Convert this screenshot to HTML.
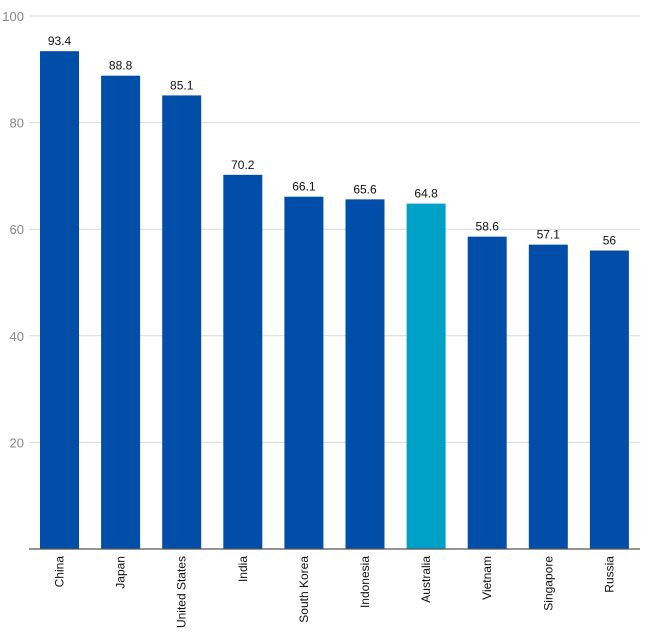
<!DOCTYPE html>
<html><head><meta charset="utf-8"><style>
html,body{margin:0;padding:0;background:#fff;}
svg{display:block;font-family:"Liberation Sans",sans-serif;}
</style></head><body>
<svg id="chart" width="650" height="644" viewBox="0 0 650 644"></svg>
<script>
const categories=["China","Japan","United States","India","South Korea","Indonesia","Australia","Vietnam","Singapore","Russia"];
const values=[93.4,88.8,85.1,70.2,66.1,65.6,64.8,58.6,57.1,56];
const valueLabels=["93.4","88.8","85.1","70.2","66.1","65.6","64.8","58.6","57.1","56"];
const highlight=["Australia"];
const yTicks=[20,40,60,80,100];
const NS="http://www.w3.org/2000/svg";
const svg=document.getElementById('chart');
const x0=29,x1=640,yBase=549,yTop=16,yMax=100;
const y=v=>yBase-(v/yMax)*(yBase-yTop);
const step=61.1,barW=39,firstX=40;
const xPos=i=>firstX+i*step;
function mk(t,a){const e=document.createElementNS(NS,t);for(const k in a)e.setAttribute(k,a[k]);svg.appendChild(e);return e;}
yTicks.forEach(t=>{
  const l=mk('line',{x1:x0,x2:x1,y1:y(t),y2:y(t),stroke:'#d9d9d9','stroke-width':1});
  
  
  const tx=mk('text',{x:24,y:y(t)+5,'text-anchor':'end','font-size':13,fill:'#888'});
  tx.textContent=t;
  
  
});
categories.forEach((c,i)=>{
  const v=values[i];
  const r=mk('rect',{x:xPos(i),y:y(v),width:barW,height:yBase-y(v),fill:highlight.includes(c)?'#00a1c7':'#004ea8'});
  
  
  const vl=mk('text',{x:xPos(i)+barW/2,y:y(v)-6,'text-anchor':'middle','font-size':12,fill:'#111'});
  vl.textContent=valueLabels[i];
  
  
  const cx=xPos(i)+barW/2+4;
  const cl=mk('text',{x:cx,y:556,'text-anchor':'end','font-size':12,fill:'#111',transform:`rotate(-90 ${cx} 556)`});
  cl.textContent=c;
  
  
});
const ax=mk('line',{x1:x0,x2:x1,y1:yBase,y2:yBase,stroke:'#555','stroke-width':1.2});


</script>
</body></html>
